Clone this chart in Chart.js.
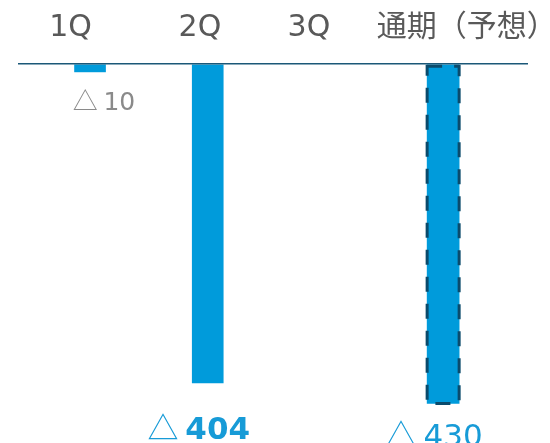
<!DOCTYPE html>
<html lang="ja">
<head>
<meta charset="utf-8">
<script src="https://cdn.jsdelivr.net/npm/chart.js@4/dist/chart.umd.min.js"></script>
<style>
  html, body { margin: 0; padding: 0; background: #ffffff; }
  #wrap { width: 550px; height: 443px; position: relative; }
</style>
</head>
<body>
<div id="wrap"><canvas id="chart"></canvas></div>
<script>
// Periods shown along the top
const categories = ['1Q', '2Q', '3Q', '通期（予想）'];
// Quarterly results (3Q not yet reported)
const actualValues = [-10, -404, null, null];
// Full-year forecast
const forecastValues = [null, null, null, -430];

// Where each period heading sits on the index scale
const headingPositions = [-0.166, 0.934, 1.86, 3.20];

// Value-label look for each period: colour, size, weight and offset from the bar end
const labelStyles = [
  { color: '#8a8a8a', size: 25, bold: false, dx: 14, dy: 38 },
  { color: '#179bd7', size: 31, bold: true,  dx: -9, dy: 56 },
  null,
  { color: '#179bd7', size: 31, bold: false, dx: -9, dy: 42 }
];

const BLUE = '#009bdb';
const FONT = '"DejaVu Sans", "Noto Sans CJK JP", sans-serif';
const X_MIN = -0.612, X_MAX = 3.721;

// Keep only periods that have a value
const toPoints = vals => vals
  .map((v, i) => ({ x: i, y: v }))
  .filter(p => p.y != null);

// Dashed outline around forecast bars
const dashedOutline = {
  id: 'dashedOutline',
  afterDatasetsDraw(chart) {
    const ctx = chart.ctx;
    chart.data.datasets.forEach((ds, di) => {
      if (!ds.dashed) return;
      chart.getDatasetMeta(di).data.forEach(el => {
        const p = el.getProps(['x', 'y', 'base', 'width'], true);
        const left = p.x - p.width / 2;
        const top = Math.min(p.y, p.base);
        const h = Math.abs(p.base - p.y);
        ctx.save();
        ctx.strokeStyle = '#0b4b6c';
        ctx.lineWidth = 3;
        ctx.setLineDash([15, 12]);
        ctx.strokeRect(left, top + 1.5, p.width, h - 1.5);
        ctx.restore();
      });
    });
  }
};

// "△ n" value labels under each bar
const valueLabels = {
  id: 'valueLabels',
  afterDatasetsDraw(chart) {
    const ctx = chart.ctx;
    chart.data.datasets.forEach((ds, di) => {
      chart.getDatasetMeta(di).data.forEach((el, i) => {
        const pt = ds.data[i];
        const st = labelStyles[pt.x];
        if (!st) return;
        const v = pt.y;
        const p = el.getProps(['x', 'y'], true);
        const parts = [
          { t: v < 0 ? '△ ' : '', f: `${st.size}px "Noto Sans CJK JP", sans-serif` },
          { t: String(Math.abs(v)), f: `${st.bold ? 'bold ' : ''}${st.size}px ${FONT}` }
        ];
        ctx.save();
        ctx.fillStyle = st.color;
        ctx.textBaseline = 'alphabetic';
        ctx.textAlign = 'left';
        let total = 0;
        parts.forEach(s => { ctx.font = s.f; s.w = ctx.measureText(s.t).width; total += s.w; });
        let x = p.x + st.dx - total / 2;
        const y = p.y + st.dy;
        parts.forEach(s => { ctx.font = s.f; ctx.fillText(s.t, x, y); x += s.w; });
        ctx.restore();
      });
    });
  }
};

new Chart(document.getElementById('chart'), {
  type: 'bar',
  data: {
    datasets: [
      {
        label: '実績',
        data: toPoints(actualValues),
        backgroundColor: BLUE,
        barThickness: 31,
        grouped: false
      },
      {
        label: '予想',
        data: toPoints(forecastValues),
        backgroundColor: BLUE,
        barThickness: 32,
        grouped: false,
        dashed: true
      }
    ]
  },
  options: {
    responsive: true,
    maintainAspectRatio: false,
    animation: false,
    layout: { padding: { left: 18, right: 22, top: -8, bottom: 0 } },
    plugins: {
      legend: { display: false },
      tooltip: { enabled: false }
    },
    scales: {
      x: {
        type: 'linear',
        min: X_MIN,
        max: X_MAX,
        offset: false,
        display: false
      },
      xt: {
        type: 'linear',
        position: 'top',
        min: X_MIN,
        max: X_MAX,
        offset: false,
        afterBuildTicks: axis => { axis.ticks = headingPositions.map(v => ({ value: v })); },
        afterFit: axis => { axis.paddingLeft = 0; axis.paddingRight = 0; },
        grid: { display: false, drawTicks: false },
        border: { display: false },
        ticks: {
          autoSkip: false,
          maxRotation: 0,
          padding: 18,
          color: '#595959',
          font: { family: FONT, size: 30 },
          callback: (val, idx) => categories[idx]
        }
      },
      y: {
        min: -480,
        max: 0,
        afterBuildTicks: axis => { axis.ticks = [{ value: 0 }]; },
        grid: { color: '#1b5878', lineWidth: 1.5, drawTicks: false, z: 1 },
        border: { display: false },
        ticks: { display: false }
      }
    }
  },
  plugins: [dashedOutline, valueLabels]
});
</script>
</body>
</html>
